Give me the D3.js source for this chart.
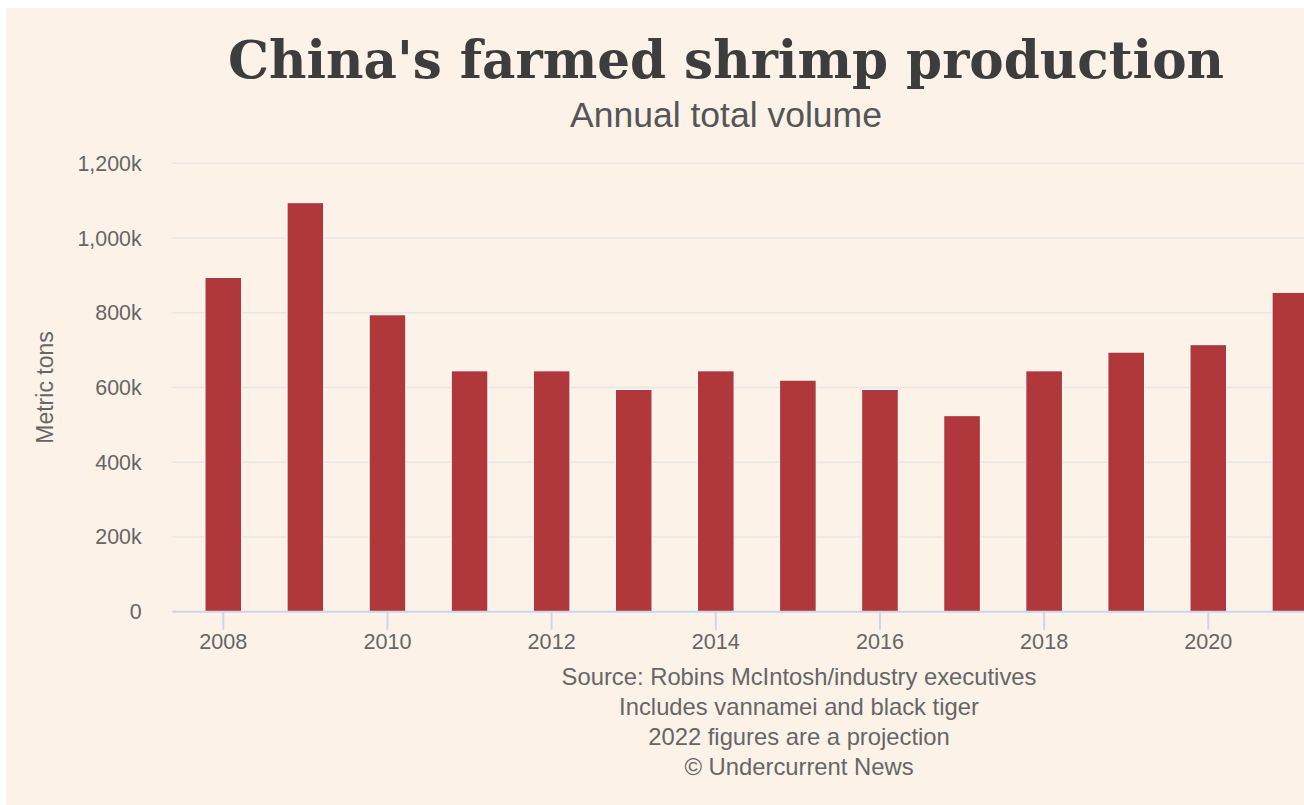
<!DOCTYPE html>
<html>
<head>
<meta charset="utf-8">
<script src="https://cdn.jsdelivr.net/npm/d3@7"></script>
<style>
  body { margin: 0; background: #ffffff; overflow: hidden; }
  svg { display: block; }
</style>
</head>
<body>
<div id="chart"></div>
<script>
// Chart data (thousand metric tons)
const years = [2008, 2009, 2010, 2011, 2012, 2013, 2014, 2015, 2016, 2017, 2018, 2019, 2020, 2021];
const volumes = [900, 1100, 800, 650, 650, 600, 650, 625, 600, 530, 650, 700, 720, 860];
const yTicks = [0, 200, 400, 600, 800, 1000, 1200];
const xTicks = [2008, 2010, 2012, 2014, 2016, 2018, 2020];
const footLines = [
    'Source: Robins McIntosh/industry executives',
    'Includes vannamei and black tiger',
    '2022 figures are a projection',
    '\u00A9 Undercurrent News'
];

const width = 1304;
const height = 805;
const sans = "'Liberation Sans', Arial, sans-serif";

const svg = d3.select('#chart').append('svg')
    .attr('width', width)
    .attr('height', height);

// Page background panel
svg.append('rect')
    .attr('x', 6).attr('y', 8)
    .attr('width', width).attr('height', height)
    .attr('fill', '#fdf2e8');

// Scales (plot runs past the right edge of the window)
const plotLeft = 172.3, plotRight = 1425.7;
const x = d3.scaleLinear().domain([2008, 2020]).range([223.3, 1208.3]);
const y = d3.scaleLinear().domain([0, 1200]).range([611.7, 163.3]);
const barWidth = 37.6;

// Grid lines
svg.append('g')
    .selectAll('line')
    .data(yTicks.filter(d => d > 0))
    .enter().append('line')
    .attr('x1', plotLeft).attr('x2', width)
    .attr('y1', d => y(d)).attr('y2', d => y(d))
    .attr('stroke', '#e8e6e4')
    .attr('stroke-width', 1.6);

// Y tick labels
svg.append('g')
    .selectAll('text')
    .data(yTicks)
    .enter().append('text')
    .attr('x', 141.7)
    .attr('y', d => y(d) + 7.5)
    .attr('text-anchor', 'end')
    .style('font-family', sans)
    .style('font-size', '21.4px')
    .attr('fill', '#666666')
    .text(d => d === 0 ? '0' : d3.format(',')(d) + 'k');

// Y axis title
svg.append('text')
    .attr('transform', 'translate(53,387.5) rotate(-90)')
    .attr('text-anchor', 'middle')
    .style('font-family', sans)
    .style('font-size', '23px')
    .attr('fill', '#666666')
    .text('Metric tons');

// Bars
svg.append('g')
    .selectAll('rect')
    .data(years.map((yr, i) => ({ year: yr, value: volumes[i] })))
    .enter().append('rect')
    .attr('x', d => x(d.year) - barWidth / 2 + 0.5)
    .attr('y', d => y(d.value) + 2)
    .attr('width', barWidth - 1)
    .attr('height', d => y(0) - y(d.value) - 2)
    .attr('fill', '#b0383a')
    .attr('stroke', '#ffffff')
    .attr('stroke-width', 1);

// X axis line and ticks
svg.append('line')
    .attr('x1', plotLeft).attr('x2', width)
    .attr('y1', y(0)).attr('y2', y(0))
    .attr('stroke', '#ccd6eb')
    .attr('stroke-width', 2);

const xAxis = svg.append('g');
xAxis.selectAll('line')
    .data(xTicks)
    .enter().append('line')
    .attr('x1', d => x(d)).attr('x2', d => x(d))
    .attr('y1', y(0)).attr('y2', y(0) + 18)
    .attr('stroke', '#ccd6eb')
    .attr('stroke-width', 2);

xAxis.selectAll('text')
    .data(xTicks)
    .enter().append('text')
    .attr('x', d => x(d))
    .attr('y', 649)
    .attr('text-anchor', 'middle')
    .style('font-family', sans)
    .style('font-size', '21.6px')
    .attr('fill', '#666666')
    .text(d => d);

// Title and subtitle
svg.append('text')
    .attr('x', 726).attr('y', 78)
    .attr('text-anchor', 'middle')
    .style('font-family', "Georgia, 'DejaVu Serif', serif")
    .style('font-weight', 'bold')
    .style('font-size', '51.6px')
    .attr('fill', '#3d3d3d')
    .text("China's farmed shrimp production");

svg.append('text')
    .attr('x', 726).attr('y', 127)
    .attr('text-anchor', 'middle')
    .style('font-family', sans)
    .style('font-size', '35.5px')
    .attr('fill', '#555555')
    .text('Annual total volume');

// Footnotes, centred on the plot area
svg.append('g')
    .selectAll('text')
    .data(footLines)
    .enter().append('text')
    .attr('x', (plotLeft + plotRight) / 2)
    .attr('y', (d, i) => 685 + i * 30)
    .attr('text-anchor', 'middle')
    .style('font-family', sans)
    .style('font-size', '23.8px')
    .attr('fill', '#666666')
    .text(d => d);
</script>
</body>
</html>
